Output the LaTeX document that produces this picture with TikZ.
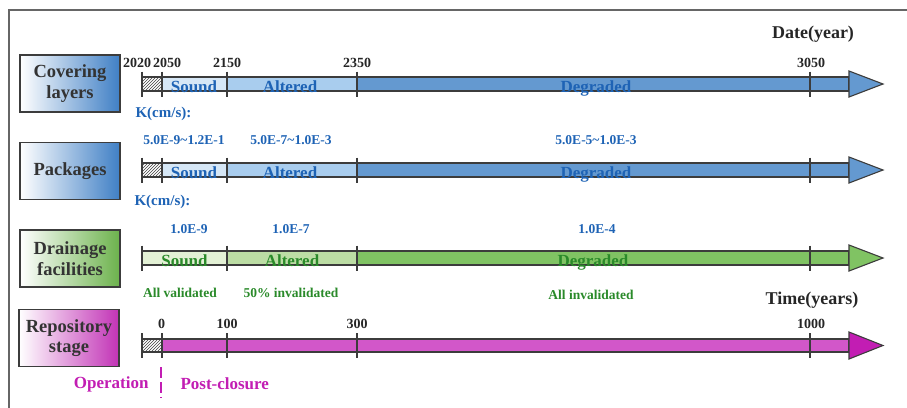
\documentclass[tikz,border=0pt]{standalone}
\usepackage{fontspec}
\setmainfont{Liberation Serif}
\usetikzlibrary{patterns}

\definecolor{framegray}{HTML}{666666}
\definecolor{edge}{HTML}{3C3C3C}
\definecolor{bluetxt}{HTML}{1E63B5}
\definecolor{blueA}{HTML}{D6E7F6}
\definecolor{blueB}{HTML}{A9CDEE}
\definecolor{blueC}{HTML}{6499D0}
\definecolor{boxblue}{HTML}{3F7FC5}
\definecolor{greentxt}{HTML}{2A8A2A}
\definecolor{greenA}{HTML}{E3F1D5}
\definecolor{greenB}{HTML}{BCDDA4}
\definecolor{greenC}{HTML}{80C363}
\definecolor{boxgreen}{HTML}{6CB24C}
\definecolor{magtxt}{HTML}{C21DB3}
\definecolor{magbar}{HTML}{D257C9}
\definecolor{boxmag}{HTML}{C233B6}

\tikzset{
  rowbox/.style={draw=edge, line width=1.2pt, minimum width=100pt, minimum height=57pt,
    align=center, inner sep=0pt, text=black!80,
    font=\fontsize{18.5}{20.5}\selectfont\bfseries},
  ticklab/.style={anchor=base, text=black!85, font=\fontsize{14}{14}\selectfont\bfseries},
  axislab/.style={text=black!85, font=\fontsize{18}{18}\selectfont\bfseries},
  barlab/.style={anchor=base, font=\fontsize{17}{17}\selectfont\bfseries},
  klab/.style={anchor=west, text=bluetxt, font=\fontsize{15}{15}\selectfont\bfseries},
  kval/.style={text=bluetxt, font=\fontsize{13.5}{13.5}\selectfont\bfseries},
  state/.style={text=greentxt, font=\fontsize{13.5}{13.5}\selectfont\bfseries},
  stagelab/.style={text=magtxt, font=\fontsize{17}{17}\selectfont\bfseries},
  baredge/.style={draw=edge, line width=1.1pt},
  hatch/.style={pattern=north east lines, pattern color=black!75}
}

\begin{document}
\begin{tikzpicture}[x=1pt, y=-1pt]
	\useasboundingbox (0,0) rectangle (907,407);
	\draw[framegray, line width=2pt] (9,10) rectangle (925,425);

	% row titles
	\node[rowbox, left color=white, right color=boxblue] (cover) at (70,83.5) {Covering\\layers};
	\node[rowbox, left color=white, right color=boxblue] (pack) at (70,171) {Packages};
	\node[rowbox, left color=white, right color=boxgreen] (drain) at (70,258.5) {Drainage\\facilities};
	\node[rowbox, left color=white, right color=boxmag] (repo) at (69,338) {Repository\\stage};

	% blue bars
	\foreach \y in {84, 170} {
		\fill[hatch] (142,\y-7) rectangle (162,\y+7);
		\fill[blueA] (162,\y-7) rectangle (227,\y+7);
		\fill[blueB] (227,\y-7) rectangle (357,\y+7);
		\fill[blueC] (357,\y-7) rectangle (849,\y+7);
		\draw[baredge] (142,\y-7) rectangle (849,\y+7);
		\draw[baredge, fill=blueC] (849,\y-13) -- (883,\y) -- (849,\y+13) -- cycle;
		\foreach \x in {142, 162, 227, 357, 810}
			\draw[baredge] (\x,\y-12.5) -- (\x,\y+12.5);
	}

	% green bar
	\fill[greenA] (142,251) rectangle (227,265);
	\fill[greenB] (227,251) rectangle (357,265);
	\fill[greenC] (357,251) rectangle (849,265);
	\draw[baredge] (142,251) rectangle (849,265);
	\draw[baredge, fill=greenC] (849,245) -- (883,258) -- (849,271) -- cycle;
	\foreach \x in {142, 227, 357, 810}
		\draw[baredge] (\x,245.5) -- (\x,270.5);

	% magenta bar
	\fill[hatch] (142,339) rectangle (162,352);
	\fill[magbar] (162,339) rectangle (849,352);
	\draw[baredge] (142,339) rectangle (849,352);
	\draw[baredge, fill=magtxt] (849,332) -- (883,345.5) -- (849,359) -- cycle;
	\foreach \x in {142, 162, 227, 357, 810}
		\draw[baredge] (\x,333) -- (\x,358);

	% axis labels
	\node[axislab] (date) at (813,34) {Date(year)};
	\foreach \x/\lab/\name in {137/2020/a, 167/2050/b, 227/2150/c, 357/2350/d, 811/3050/e}
		\node[ticklab] (y\name) at (\x,67) {\lab};
	\node[axislab] (time) at (812,300) {Time(years)};
	\foreach \x/\lab/\name in {161.5/0/a, 227/100/b, 357/300/c, 811/1000/d}
		\node[ticklab] (t\name) at (\x,328.5) {\lab};

	% phase names in the bars
	\foreach \x/\lab/\name in {194/Sound/a, 290/Altered/b, 596/Degraded/c} {
		\node[barlab, text=bluetxt] (cov\name) at (\x,92) {\lab};
		\node[barlab, text=bluetxt] (pk\name) at (\x,178) {\lab};
	}
	\foreach \x/\lab/\name in {184.5/Sound/a, 292/Altered/b, 593/Degraded/c}
		\node[barlab, text=greentxt] (dr\name) at (\x,266) {\lab};

	% permeability
	\node[klab] (kcov) at (132,114) {K(cm/s):};
	\node[kval] (ka) at (184,140) {5.0E-9\textasciitilde1.2E-1};
	\node[kval] (kb) at (291,140) {5.0E-7\textasciitilde1.0E-3};
	\node[kval] (kc) at (596,140) {5.0E-5\textasciitilde1.0E-3};
	\node[klab] (kpack) at (131,202) {K(cm/s):};
	\node[kval] (kd) at (189,229) {1.0E-9};
	\node[kval] (ke) at (291,229) {1.0E-7};
	\node[kval] (kf) at (597,229) {1.0E-4};

	% drainage state
	\node[state] (sa) at (180,293) {All validated};
	\node[state] (sb) at (291,293) {50\% invalidated};
	\node[state] (sc) at (591,295) {All invalidated};

	% closure
	\coordinate (cltop) at (161,367);
	\coordinate (clbot) at (161,398);
	\draw[magtxt, line width=1.5pt, dash pattern=on 11pt off 4pt] (cltop) -- (clbot);
	\node[stagelab, anchor=east] (oper) at (152,384) {Operation};
	\node[stagelab, anchor=west] (post) at (177,384) {Post-closure};
\end{tikzpicture}
\end{document}
